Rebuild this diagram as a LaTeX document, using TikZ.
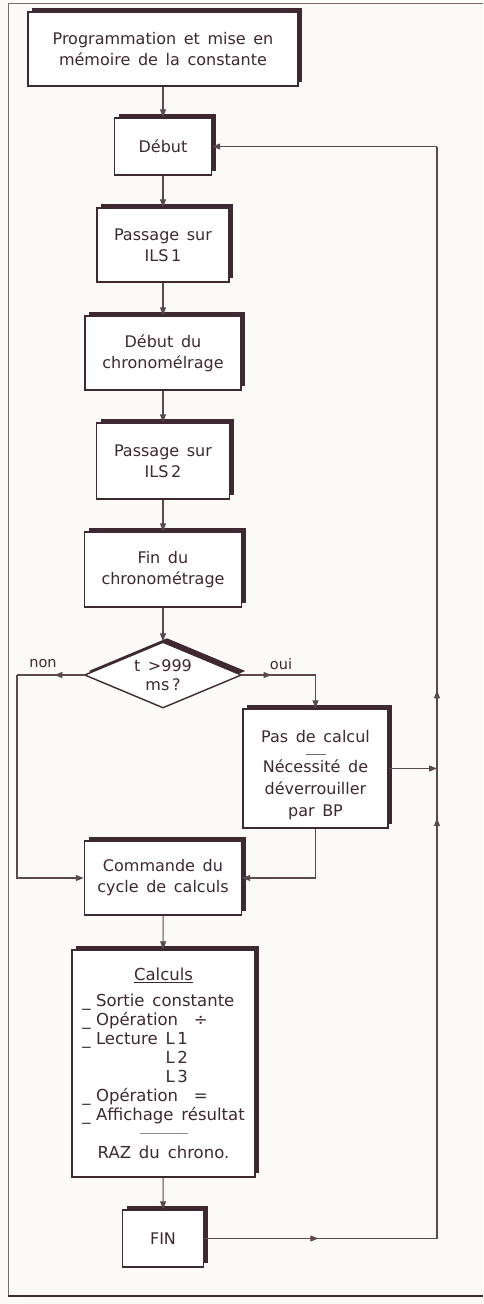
\documentclass[tikz,border=0pt]{standalone}
\usepackage{fontspec}
\setmainfont{DejaVu Sans}[WordSpace=1.5]
\usepackage{xcolor}
\usetikzlibrary{shapes.geometric, arrows.meta, shadows, decorations.markings}
\definecolor{inkbrown}{RGB}{62,40,50}
\definecolor{paper}{RGB}{252,250,246}

\begin{document}
\begin{tikzpicture}[
    x=1pt, y=-1pt,
    box/.style={rectangle, draw=inkbrown, line width=1.4pt, fill=white, align=center,
        font=\fontsize{16}{21}\selectfont, text=inkbrown,
        general shadow={fill=inkbrown, shadow xshift=4pt, shadow yshift=4pt}},
    test/.style={diamond, draw=inkbrown, line width=1.4pt, fill=white, align=center,
        inner sep=0pt, aspect=2.4, font=\fontsize{16}{19}\selectfont, text=inkbrown,
        general shadow={fill=inkbrown, shadow xshift=4pt, shadow yshift=4pt}},
    lbl/.style={font=\fontsize{14.5}{16}\selectfont, text=inkbrown},
    line/.style={draw=inkbrown!85, line width=1.1pt},
    arrow/.style={line, -{Triangle[length=8pt, width=6pt]}},
    midarrow/.style={postaction={decorate, decoration={markings,
        mark=at position #1 with {\arrow{Triangle[length=8pt, width=6pt]}}}}}
]
% Paper and frame
\fill[paper] (0,0) rectangle (483,1304);
\useasboundingbox (0,0) rectangle (483,1304);
\draw[inkbrown!70, line width=0.8pt] (483,3) -- (8,3) -- (8,1296);
\draw[inkbrown, line width=1.8pt] (8,1296) -- (483,1296);

% Main chain
\node[box, minimum width=270pt, minimum height=74pt] (prog) at (163,49) {Programmation et mise en\\mémoire de la constante};
\node[box, minimum width=97pt, minimum height=57pt] (debut) at (163,146.5) {Début};
\node[box, minimum width=132pt, minimum height=74pt] (ils1) at (163,245) {Passage sur\\ILS\,1};
\node[box, minimum width=156pt, minimum height=74pt] (chstart) at (163,353) {Début du\\chronomélrage};
\node[box, minimum width=133pt, minimum height=76pt] (ils2) at (163,461) {Passage sur\\ILS\,2};
\node[box, minimum width=157pt, minimum height=75pt] (chstop) at (163,569.5) {Fin du\\chronométrage};
\node[test, minimum width=157pt, minimum height=66pt] (limit) at (163,675) {t >999\\ms\,?};
\node[box, minimum width=145pt, minimum height=119pt, font=\fontsize{16}{23}\selectfont] (nocalc) at (315.5,768.5)
    {\rule{0pt}{26pt}Pas de calcul\\[-11pt]{\color{inkbrown!70}\rule{20pt}{0.6pt}}\\[-5pt]Nécessité de\\[-1pt]déverrouiller\\[-1pt]par BP};
\node[box, minimum width=157pt, minimum height=74pt] (cmd) at (163,878) {Commande du\\cycle de calculs};
\node[box, minimum width=183pt, minimum height=227pt, font=\fontsize{16.5}{19}\selectfont] (calc) at (163.5,1063.5)
    {\underline{Calculs}\\[9pt]
     \begin{tabular}{@{}l@{}}
     \_\,\,Sortie constante\\
     \_\,\,Opération \ ÷\\
     \_\,\,Lecture L\,1\\
     \phantom{\_\,\,Lecture }L\,2\\
     \phantom{\_\,\,Lecture }L\,3\\
     \_\,\,Opération \ =\\
     \_\,\,Affichage résultat
     \end{tabular}\\[6pt]
     {\color{inkbrown!55}\rule{48pt}{1pt}}\\[6pt]
     RAZ du chrono.};
\node[box, minimum width=81pt, minimum height=57pt] (fin) at (163,1238.5) {FIN};

% Branch labels
\node[lbl] (non) at (43,664) {non};
\node[lbl] (oui) at (281,664) {oui};

% Return rail
\coordinate (nonbend) at (17,675);
\coordinate (ouibend) at (nocalc.north |- limit.east);
\coordinate (rtop) at (437,146.5);
\coordinate (rjoin) at (437,768.5);
\coordinate (rbot) at (437,1238.5);

% Connect chain
\draw[arrow] (prog) -- (debut);
\draw[arrow] (debut) -- (ils1);
\draw[arrow] (ils1) -- (chstart);
\draw[arrow] (chstart) -- (ils2);
\draw[arrow] (ils2) -- (chstop);
\draw[arrow] (chstop) -- (limit);
\draw[arrow] (cmd) -- (calc);
\draw[arrow] (calc) -- (fin);

% Test branches
\draw[line, midarrow=0.44] (limit.west) -- (nonbend);
\draw[arrow] (nonbend) |- (cmd.west);
\draw[line, midarrow=0.4] (limit.east) -- (ouibend);
\draw[arrow] (ouibend) -- (nocalc.north);
\draw[arrow] (nocalc.south) |- (cmd.east);

% Loop back to start
\draw[arrow] (nocalc.east) -- (rjoin);
\draw[line, midarrow=0.49] (fin.east) -- (rbot);
\draw[line, midarrow=0.385, midarrow=0.502] (rbot) -- (rtop);
\draw[arrow] (rtop) -- (debut.east);
\end{tikzpicture}
\end{document}
